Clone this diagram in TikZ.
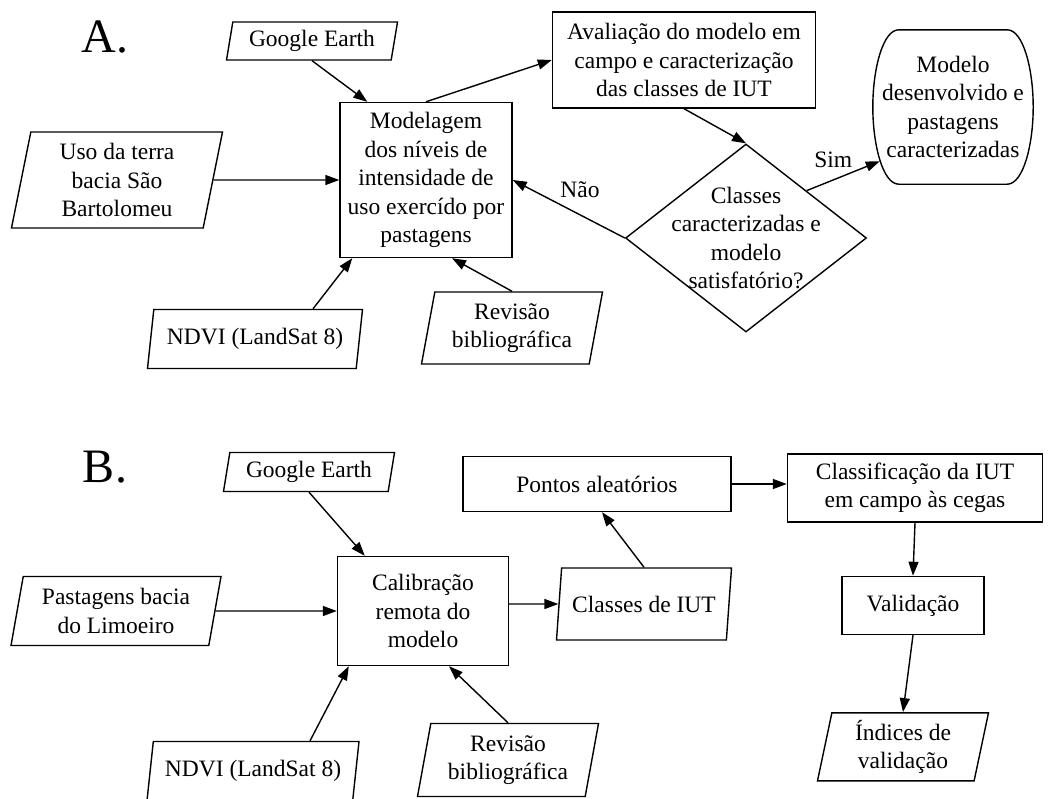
\documentclass[tikz,border=0pt]{standalone}
\usepackage{fontspec}
\setmainfont{Liberation Serif}
\usetikzlibrary{positioning, arrows.meta, shapes.geometric}

\begin{document}
\begin{tikzpicture}[
    x=1pt, y=-1pt,
    >={Triangle[length=14pt,width=10pt]},
    every node/.style={font=\fontsize{23.5}{28.5}\selectfont, align=center, inner sep=2pt},
    processo/.style={draw, rectangle, line width=1.4pt},
    dado/.style={draw, trapezium, trapezium left angle=76, trapezium right angle=104, trapezium stretches body=true, line width=1.4pt},
    decisao/.style={draw, diamond, line width=1.4pt, inner sep=0pt},
    seta/.style={->, line width=1.4pt},
    letra/.style={font=\fontsize{48}{48}\selectfont}
]
    \useasboundingbox (0,0) rectangle (1051,798);

    % A. modelagem
    \node[letra] (letraA) at (105,37) {A.};
    \node[dado, minimum width=171pt, minimum height=38pt] (googleA) at (312,41) {Google Earth};
    \node[dado, minimum width=211pt, minimum height=96pt] (usoA) at (117,180) {Uso da terra\\bacia São\\Bartolomeu};
    \node[processo, minimum width=172pt, minimum height=155pt] (modelagem) at (426,180) {Modelagem\\dos níveis de\\intensidade de\\uso exercído por\\pastagens};
    \node[dado, minimum width=215pt, minimum height=59pt] (ndviA) at (255,339) {NDVI (LandSat 8)};
    \node[dado, minimum width=181pt, minimum height=72pt] (revisaoA) at (512,328) {Revisão\\bibliográfica};
    \node[processo, minimum width=263pt, minimum height=96pt] (avaliacao) at (684,60) {Avaliação do modelo em\\campo e caracterização\\das classes de IUT};
    \node[decisao, minimum width=241pt, minimum height=188pt, label={center:Classes\\caracterizadas e\\modelo\\satisfatório?}] (decisao) at (746,238) {};
    \node[minimum width=160pt, minimum height=154pt] (fim) at (953,107) {Modelo\\desenvolvido e\\pastagens\\caracterizadas};
    \draw[line width=1.4pt] ([xshift=26pt]fim.north west) -- ([xshift=-26pt]fim.north east)
        .. controls ([xshift=-10pt]fim.north east) and ([yshift=38pt]fim.east) .. (fim.east)
        .. controls ([yshift=-38pt]fim.east) and ([xshift=-10pt]fim.south east) .. ([xshift=-26pt]fim.south east)
        -- ([xshift=26pt]fim.south west)
        .. controls ([xshift=10pt]fim.south west) and ([yshift=-38pt]fim.west) .. (fim.west)
        .. controls ([yshift=38pt]fim.west) and ([xshift=10pt]fim.north west) .. cycle;

    \draw[seta] (googleA.south) -- ([xshift=28pt]modelagem.north west);
    \draw[seta] (usoA.east) -- (modelagem.west);
    \draw[seta] ([xshift=58pt]ndviA.north) -- ([xshift=13pt]modelagem.south west);
    \draw[seta] (revisaoA.north) -- ([xshift=26pt]modelagem.south);
    \draw[seta] (modelagem.north) -- (avaliacao.west);
    \draw[seta] (avaliacao.south) -- (decisao.north);
    \draw[seta] (decisao.west) -- node[above, pos=0.4, yshift=14pt]{Não} (modelagem.east);
    \draw[seta] (decisao.north east) -- node[above, xshift=-10pt, yshift=5pt]{Sim} ([xshift=7pt, yshift=23pt]fim.south west);

    % B. validacao
    \node[letra] (letraB) at (105,467) {B.};
    \node[dado, minimum width=171pt, minimum height=39pt] (googleB) at (309,472) {Google Earth};
    \node[dado, minimum width=210pt, minimum height=69pt] (pastagens) at (116,611) {Pastagens bacia\\do Limoeiro};
    \node[processo, minimum width=171pt, minimum height=109pt] (calibracao) at (423,611) {Calibração\\remota do\\modelo};
    \node[dado, minimum width=212pt, minimum height=59pt] (ndviB) at (253,771) {NDVI (LandSat 8)};
    \node[dado, minimum width=181pt, minimum height=73pt] (revisaoB) at (508,760) {Revisão\\bibliográfica};
    \node[dado, minimum width=175pt, minimum height=72pt] (classes) at (644,604) {Classes de IUT};
    \node[processo, minimum width=268pt, minimum height=55pt] (pontos) at (597,484) {Pontos aleatórios};
    \node[processo, minimum width=255pt, minimum height=68pt] (classificacao) at (915,488) {Classificação da IUT\\em campo às cegas};
    \node[processo, minimum width=142pt, minimum height=58pt, below=53pt of classificacao, xshift=-2pt] (validacao) {Validação};
    \node[dado, minimum width=171pt, minimum height=68pt, below=77pt of validacao, xshift=-10pt] (indices) {Índices de\\validação};

    \draw[seta] (googleB.south) -- ([xshift=28pt]calibracao.north west);
    \draw[seta] (pastagens.east) -- (calibracao.west);
    \draw[seta] ([xshift=57pt]ndviB.north) -- ([xshift=12pt]calibracao.south west);
    \draw[seta] (revisaoB.north) -- ([xshift=26pt]calibracao.south);
    \draw[seta] ([yshift=7pt]calibracao.east) -- (classes.west);
    \draw[seta] (classes.north) -- ([xshift=5pt]pontos.south);
    \draw[seta] (pontos.east) -- (pontos.east -| classificacao.west);
    \draw[seta] (classificacao.south) -- (validacao.north);
    \draw[seta] (validacao.south) -- (indices.north);
\end{tikzpicture}
\end{document}
